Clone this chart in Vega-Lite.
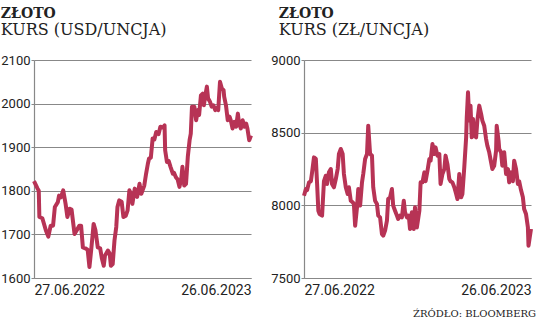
{
  "$schema": "https://vega.github.io/schema/vega-lite/v6.json",
  "padding": {"top": 7, "left": 0, "right": 0, "bottom": 0},
  "spacing": 17,
  "title": {"text": "ŹRÓDŁO: BLOOMBERG", "orient": "bottom", "anchor": "end", "frame": "bounds", "font": "DejaVu Serif", "fontSize": 10, "fontWeight": "normal", "color": "#222", "offset": 12, "dx": 3},
  "datasets": {
    "usd": [
      {"date": "2022-06-27", "value": 1822}, {"date": "2022-07-03", "value": 1805}, {"date": "2022-07-05", "value": 1800}, {"date": "2022-07-06", "value": 1740},
      {"date": "2022-07-11", "value": 1737}, {"date": "2022-07-17", "value": 1709}, {"date": "2022-07-21", "value": 1695}, {"date": "2022-07-25", "value": 1720},
      {"date": "2022-07-29", "value": 1720}, {"date": "2022-08-01", "value": 1763}, {"date": "2022-08-06", "value": 1774}, {"date": "2022-08-08", "value": 1789},
      {"date": "2022-08-11", "value": 1785}, {"date": "2022-08-15", "value": 1801}, {"date": "2022-08-19", "value": 1770}, {"date": "2022-08-22", "value": 1740},
      {"date": "2022-08-26", "value": 1759}, {"date": "2022-08-29", "value": 1757}, {"date": "2022-09-03", "value": 1701}, {"date": "2022-09-07", "value": 1710},
      {"date": "2022-09-11", "value": 1720}, {"date": "2022-09-14", "value": 1720}, {"date": "2022-09-17", "value": 1670}, {"date": "2022-09-21", "value": 1668},
      {"date": "2022-09-25", "value": 1665}, {"date": "2022-09-28", "value": 1625}, {"date": "2022-10-01", "value": 1665}, {"date": "2022-10-05", "value": 1724},
      {"date": "2022-10-08", "value": 1710}, {"date": "2022-10-12", "value": 1670}, {"date": "2022-10-16", "value": 1668}, {"date": "2022-10-19", "value": 1644},
      {"date": "2022-10-22", "value": 1628}, {"date": "2022-10-24", "value": 1651}, {"date": "2022-10-29", "value": 1663}, {"date": "2022-11-01", "value": 1656},
      {"date": "2022-11-03", "value": 1628}, {"date": "2022-11-06", "value": 1632}, {"date": "2022-11-09", "value": 1686}, {"date": "2022-11-12", "value": 1717},
      {"date": "2022-11-14", "value": 1763}, {"date": "2022-11-17", "value": 1778}, {"date": "2022-11-21", "value": 1775}, {"date": "2022-11-24", "value": 1740},
      {"date": "2022-11-28", "value": 1743}, {"date": "2022-12-01", "value": 1755}, {"date": "2022-12-04", "value": 1801}, {"date": "2022-12-07", "value": 1793},
      {"date": "2022-12-09", "value": 1770}, {"date": "2022-12-13", "value": 1805}, {"date": "2022-12-17", "value": 1786}, {"date": "2022-12-21", "value": 1816},
      {"date": "2022-12-24", "value": 1793}, {"date": "2022-12-29", "value": 1812}, {"date": "2023-01-01", "value": 1839}, {"date": "2023-01-04", "value": 1862},
      {"date": "2023-01-06", "value": 1874}, {"date": "2023-01-09", "value": 1876}, {"date": "2023-01-12", "value": 1920}, {"date": "2023-01-15", "value": 1918},
      {"date": "2023-01-18", "value": 1935}, {"date": "2023-01-22", "value": 1930}, {"date": "2023-01-25", "value": 1947}, {"date": "2023-01-29", "value": 1945},
      {"date": "2023-02-01", "value": 1950}, {"date": "2023-02-02", "value": 1893}, {"date": "2023-02-05", "value": 1866}, {"date": "2023-02-08", "value": 1868},
      {"date": "2023-02-11", "value": 1855}, {"date": "2023-02-15", "value": 1839}, {"date": "2023-02-17", "value": 1841}, {"date": "2023-02-20", "value": 1831},
      {"date": "2023-02-23", "value": 1826}, {"date": "2023-02-26", "value": 1809}, {"date": "2023-03-01", "value": 1828}, {"date": "2023-03-03", "value": 1855},
      {"date": "2023-03-06", "value": 1812}, {"date": "2023-03-09", "value": 1816}, {"date": "2023-03-12", "value": 1878}, {"date": "2023-03-15", "value": 1916},
      {"date": "2023-03-17", "value": 1931}, {"date": "2023-03-19", "value": 1993}, {"date": "2023-03-23", "value": 1993}, {"date": "2023-03-26", "value": 1962},
      {"date": "2023-03-29", "value": 1985}, {"date": "2023-03-31", "value": 1974}, {"date": "2023-04-03", "value": 2019}, {"date": "2023-04-06", "value": 2023},
      {"date": "2023-04-08", "value": 1996}, {"date": "2023-04-10", "value": 2016}, {"date": "2023-04-13", "value": 2039}, {"date": "2023-04-15", "value": 2012},
      {"date": "2023-04-18", "value": 2005}, {"date": "2023-04-21", "value": 1993}, {"date": "2023-04-24", "value": 1996}, {"date": "2023-04-27", "value": 1985},
      {"date": "2023-04-30", "value": 1990}, {"date": "2023-05-02", "value": 1985}, {"date": "2023-05-05", "value": 2050}, {"date": "2023-05-08", "value": 2035},
      {"date": "2023-05-11", "value": 2031}, {"date": "2023-05-12", "value": 2016}, {"date": "2023-05-15", "value": 1996}, {"date": "2023-05-18", "value": 1962},
      {"date": "2023-05-21", "value": 1970}, {"date": "2023-05-23", "value": 1962}, {"date": "2023-05-26", "value": 1943}, {"date": "2023-05-29", "value": 1958},
      {"date": "2023-06-01", "value": 1947}, {"date": "2023-06-04", "value": 1977}, {"date": "2023-06-06", "value": 1954}, {"date": "2023-06-09", "value": 1943},
      {"date": "2023-06-12", "value": 1962}, {"date": "2023-06-15", "value": 1947}, {"date": "2023-06-18", "value": 1954}, {"date": "2023-06-20", "value": 1943},
      {"date": "2023-06-23", "value": 1916}, {"date": "2023-06-26", "value": 1927}
    ],
    "pln": [
      {"date": "2022-06-27", "value": 8066}, {"date": "2022-06-30", "value": 8112}, {"date": "2022-07-02", "value": 8105}, {"date": "2022-07-05", "value": 8158},
      {"date": "2022-07-08", "value": 8166}, {"date": "2022-07-10", "value": 8227}, {"date": "2022-07-13", "value": 8330}, {"date": "2022-07-16", "value": 8320},
      {"date": "2022-07-18", "value": 8147}, {"date": "2022-07-20", "value": 7963}, {"date": "2022-07-22", "value": 7940}, {"date": "2022-07-26", "value": 7929},
      {"date": "2022-07-29", "value": 8166}, {"date": "2022-08-01", "value": 8204}, {"date": "2022-08-03", "value": 8147}, {"date": "2022-08-06", "value": 8227},
      {"date": "2022-08-09", "value": 8250}, {"date": "2022-08-11", "value": 8147}, {"date": "2022-08-14", "value": 8124}, {"date": "2022-08-17", "value": 8181},
      {"date": "2022-08-20", "value": 8250}, {"date": "2022-08-22", "value": 8353}, {"date": "2022-08-25", "value": 8388}, {"date": "2022-08-28", "value": 8353},
      {"date": "2022-08-30", "value": 8216}, {"date": "2022-09-02", "value": 8124}, {"date": "2022-09-05", "value": 8078}, {"date": "2022-09-07", "value": 8124},
      {"date": "2022-09-10", "value": 8032}, {"date": "2022-09-13", "value": 8021}, {"date": "2022-09-15", "value": 8009}, {"date": "2022-09-17", "value": 7860},
      {"date": "2022-09-20", "value": 7986}, {"date": "2022-09-22", "value": 8112}, {"date": "2022-09-25", "value": 7998}, {"date": "2022-09-28", "value": 8158},
      {"date": "2022-09-30", "value": 8216}, {"date": "2022-10-03", "value": 8319}, {"date": "2022-10-06", "value": 8353}, {"date": "2022-10-08", "value": 8548},
      {"date": "2022-10-11", "value": 8353}, {"date": "2022-10-14", "value": 8342}, {"date": "2022-10-16", "value": 8124}, {"date": "2022-10-19", "value": 8032},
      {"date": "2022-10-22", "value": 8009}, {"date": "2022-10-24", "value": 7929}, {"date": "2022-10-27", "value": 7917}, {"date": "2022-10-30", "value": 7803},
      {"date": "2022-11-01", "value": 7791}, {"date": "2022-11-04", "value": 7826}, {"date": "2022-11-07", "value": 7894}, {"date": "2022-11-09", "value": 8043},
      {"date": "2022-11-12", "value": 8055}, {"date": "2022-11-15", "value": 8112}, {"date": "2022-11-17", "value": 7998}, {"date": "2022-11-20", "value": 7963},
      {"date": "2022-11-23", "value": 7929}, {"date": "2022-11-25", "value": 7906}, {"date": "2022-11-28", "value": 7929}, {"date": "2022-12-01", "value": 7917},
      {"date": "2022-12-04", "value": 8032}, {"date": "2022-12-06", "value": 7952}, {"date": "2022-12-09", "value": 7917}, {"date": "2022-12-12", "value": 7929},
      {"date": "2022-12-14", "value": 7837}, {"date": "2022-12-17", "value": 7952}, {"date": "2022-12-20", "value": 7837}, {"date": "2022-12-22", "value": 7986},
      {"date": "2022-12-25", "value": 7848}, {"date": "2022-12-29", "value": 7963}, {"date": "2022-12-31", "value": 8158}, {"date": "2023-01-03", "value": 8158},
      {"date": "2023-01-06", "value": 8227}, {"date": "2023-01-08", "value": 8166}, {"date": "2023-01-11", "value": 8238}, {"date": "2023-01-14", "value": 8319},
      {"date": "2023-01-16", "value": 8307}, {"date": "2023-01-19", "value": 8422}, {"date": "2023-01-22", "value": 8353}, {"date": "2023-01-24", "value": 8399},
      {"date": "2023-01-27", "value": 8342}, {"date": "2023-01-30", "value": 8353}, {"date": "2023-02-01", "value": 8147}, {"date": "2023-02-04", "value": 8216},
      {"date": "2023-02-07", "value": 8250}, {"date": "2023-02-09", "value": 8342}, {"date": "2023-02-12", "value": 8284}, {"date": "2023-02-15", "value": 8181},
      {"date": "2023-02-17", "value": 8166}, {"date": "2023-02-20", "value": 8158}, {"date": "2023-02-23", "value": 8124}, {"date": "2023-02-26", "value": 8078},
      {"date": "2023-02-28", "value": 8043}, {"date": "2023-03-03", "value": 8216}, {"date": "2023-03-06", "value": 8055}, {"date": "2023-03-08", "value": 8078},
      {"date": "2023-03-11", "value": 8261}, {"date": "2023-03-14", "value": 8468}, {"date": "2023-03-15", "value": 8606}, {"date": "2023-03-17", "value": 8778},
      {"date": "2023-03-19", "value": 8583}, {"date": "2023-03-21", "value": 8686}, {"date": "2023-03-23", "value": 8468}, {"date": "2023-03-25", "value": 8594},
      {"date": "2023-03-27", "value": 8480}, {"date": "2023-03-30", "value": 8468}, {"date": "2023-04-01", "value": 8583}, {"date": "2023-04-04", "value": 8686},
      {"date": "2023-04-07", "value": 8629}, {"date": "2023-04-09", "value": 8583}, {"date": "2023-04-12", "value": 8548}, {"date": "2023-04-15", "value": 8456},
      {"date": "2023-04-17", "value": 8411}, {"date": "2023-04-20", "value": 8365}, {"date": "2023-04-23", "value": 8296}, {"date": "2023-04-25", "value": 8250},
      {"date": "2023-04-28", "value": 8273}, {"date": "2023-05-01", "value": 8376}, {"date": "2023-05-02", "value": 8548}, {"date": "2023-05-05", "value": 8445},
      {"date": "2023-05-06", "value": 8388}, {"date": "2023-05-09", "value": 8365}, {"date": "2023-05-11", "value": 8273}, {"date": "2023-05-14", "value": 8365},
      {"date": "2023-05-17", "value": 8216}, {"date": "2023-05-20", "value": 8250}, {"date": "2023-05-22", "value": 8158}, {"date": "2023-05-25", "value": 8227},
      {"date": "2023-05-28", "value": 8166}, {"date": "2023-05-30", "value": 8307}, {"date": "2023-06-02", "value": 8250}, {"date": "2023-06-05", "value": 8147},
      {"date": "2023-06-07", "value": 8166}, {"date": "2023-06-10", "value": 8105}, {"date": "2023-06-13", "value": 8055}, {"date": "2023-06-15", "value": 7975},
      {"date": "2023-06-18", "value": 7940}, {"date": "2023-06-21", "value": 7849}, {"date": "2023-06-22", "value": 7722}, {"date": "2023-06-24", "value": 7780},
      {"date": "2023-06-26", "value": 7837}
    ]
  },
  "hconcat": [
    {
      "data": {"name": "usd"},
      "width": 217,
      "height": 218,
      "title": {"text": "ZŁOTO", "subtitle": "KURS (USD/UNCJA)"},
      "mark": {"type": "line", "color": "#b73355", "strokeWidth": 4, "strokeJoin": "round"},
      "encoding": {
        "x": {
          "field": "date", "type": "temporal",
          "scale": {"type": "utc", "domain": [{"year": 2022, "month": 6, "date": 27, "utc": true}, {"year": 2023, "month": 6, "date": 26, "utc": true}]},
          "axis": {"title": null, "format": "%d.%m.%Y", "values": [{"year": 2022, "month": 6, "date": 27, "utc": true}, {"year": 2023, "month": 6, "date": 26, "utc": true}]}
        },
        "y": {
          "field": "value", "type": "quantitative",
          "scale": {"domain": [1600, 2100], "nice": false, "zero": false},
          "axis": {"title": null, "format": "d", "values": [1600, 1700, 1800, 1900, 2000, 2100]}
        }
      }
    },
    {
      "data": {"name": "pln"},
      "width": 227,
      "height": 218,
      "title": {"text": "ZŁOTO", "subtitle": "KURS (ZŁ/UNCJA)", "dx": 8},
      "mark": {"type": "line", "color": "#b73355", "strokeWidth": 4, "strokeJoin": "round"},
      "encoding": {
        "x": {
          "field": "date", "type": "temporal",
          "scale": {"type": "utc", "domain": [{"year": 2022, "month": 6, "date": 27, "utc": true}, {"year": 2023, "month": 6, "date": 26, "utc": true}]},
          "axis": {"title": null, "format": "%d.%m.%Y", "values": [{"year": 2022, "month": 6, "date": 27, "utc": true}, {"year": 2023, "month": 6, "date": 26, "utc": true}]}
        },
        "y": {
          "field": "value", "type": "quantitative",
          "scale": {"domain": [7500, 9000], "nice": false, "zero": false},
          "axis": {"title": null, "format": "d", "values": [7500, 8000, 8500, 9000]}
        }
      }
    }
  ],
  "config": {
    "view": {"stroke": null},
    "font": "Roboto",
    "axis": {"labelFont": "Roboto", "labelColor": "#222", "domainColor": "#888", "gridColor": "#888", "tickColor": "#888", "domainWidth": 1.2, "gridWidth": 1.2},
    "axisY": {"labelFontSize": 13, "tickSize": 3, "labelPadding": 1, "grid": true},
    "axisX": {"labelFontSize": 14, "ticks": false, "grid": false, "labelPadding": 5, "labelFlush": true, "domain": true},
    "title": {"anchor": "start", "frame": "bounds", "font": "DejaVu Serif", "fontSize": 14, "fontWeight": "bold", "color": "#222", "subtitleFont": "DejaVu Serif", "subtitleFontSize": 16, "subtitleColor": "#222", "subtitlePadding": 1, "offset": 16}
  }
}
